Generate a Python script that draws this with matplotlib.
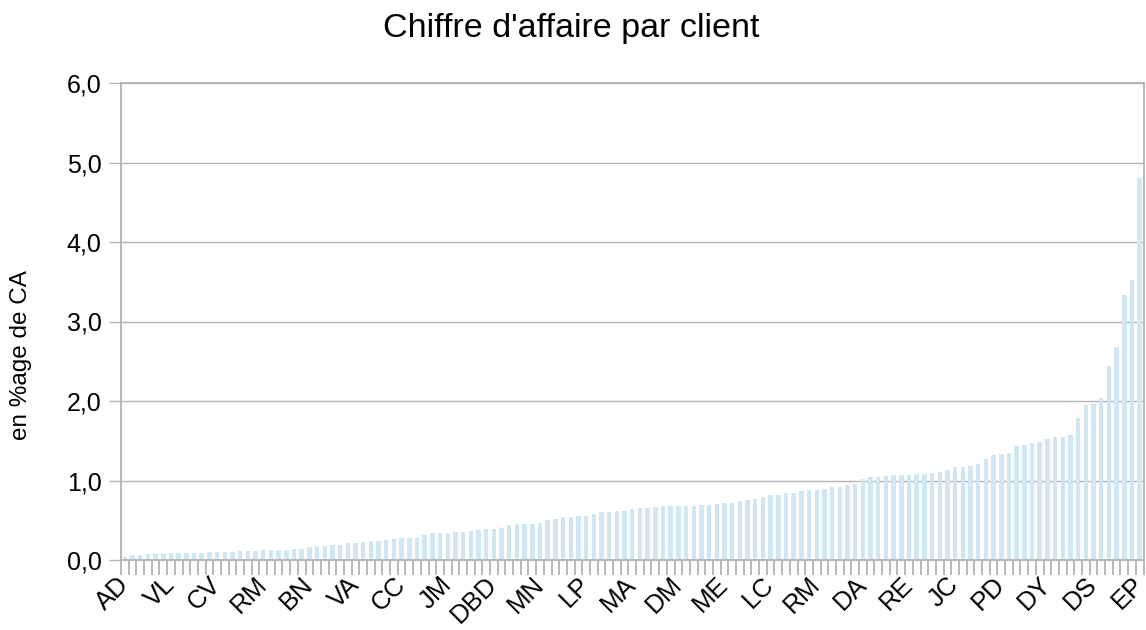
import matplotlib
matplotlib.use("Agg")
import matplotlib.pyplot as plt
from matplotlib.ticker import FuncFormatter, FixedLocator

plt.rcParams['font.family'] = ['Liberation Sans', 'DejaVu Sans']

title = "Chiffre d'affaire par client"
ylabel = "en %age de CA"

# Shown category labels (every 6th client)
shown_labels = ["AD", "VL", "CV", "RM", "BN", "VA", "CC", "JM", "DBD", "MN", "LP", "MA",
                "DM", "ME", "LC", "RM", "DA", "RE", "JC", "PD", "DY", "DS", "EP"]
label_step = 6

# Share of revenue per client (%), sorted ascending
values = [
    0.035, 0.06, 0.06, 0.07, 0.07, 0.07, 0.085, 0.085, 0.085, 0.085,
    0.085, 0.097, 0.097, 0.097, 0.097, 0.11, 0.11, 0.11, 0.12, 0.12,
    0.12, 0.12, 0.134, 0.134, 0.16, 0.172, 0.172, 0.184, 0.184, 0.21,
    0.21, 0.222, 0.235, 0.235, 0.247, 0.26, 0.273, 0.273, 0.273, 0.31,
    0.335, 0.335, 0.335, 0.348, 0.348, 0.36, 0.373, 0.386, 0.386, 0.398,
    0.436, 0.449, 0.449, 0.449, 0.461, 0.499, 0.512, 0.537, 0.537, 0.549,
    0.549, 0.574, 0.60, 0.60, 0.612, 0.612, 0.638, 0.651, 0.652, 0.664,
    0.677, 0.677, 0.677, 0.677, 0.677, 0.69, 0.69, 0.702, 0.715, 0.715,
    0.74, 0.753, 0.765, 0.79, 0.815, 0.815, 0.84, 0.84, 0.866, 0.878,
    0.878, 0.891, 0.916, 0.916, 0.941, 0.954, 1.017, 1.042, 1.042, 1.055,
    1.067, 1.067, 1.067, 1.08, 1.08, 1.092, 1.105, 1.13, 1.168, 1.169,
    1.182, 1.206, 1.270, 1.321, 1.333, 1.346, 1.434, 1.447, 1.472, 1.484,
    1.522, 1.547, 1.547, 1.572, 1.786, 1.950, 1.962, 2.038, 2.440, 2.679,
    3.333, 3.522, 4.805,
]

bar_color = "#cfe6f4"
grid_color = "#b3b3b3"

fig = plt.figure(figsize=(11.46, 6.30), dpi=100)
ax = fig.add_axes([121 / 1146, 70 / 630, 1022.5 / 1146, 477 / 630])

n = len(values)
x = list(range(n))
ax.bar(x, values, width=0.58, color=bar_color, zorder=2)

ax.set_xlim(-0.5, n - 0.5)
ax.set_ylim(0, 6)

ax.set_yticks(range(0, 7))
ax.yaxis.set_major_formatter(FuncFormatter(lambda v, p: f"{v:.1f}".replace(".", ",")))
ax.grid(axis="y", color=grid_color, linewidth=1.0, zorder=0)
ax.set_axisbelow(True)

# category boundary ticks
ax.xaxis.set_minor_locator(FixedLocator([i - 0.5 for i in range(n + 1)]))
ax.tick_params(axis="x", which="minor", length=11, width=1.3, color=grid_color)
ax.set_xticks(list(range(0, n, label_step)))
ax.set_xticklabels(shown_labels, rotation=45, ha="right", va="center",
                   rotation_mode="anchor", fontsize=18.5)
ax.tick_params(axis="x", which="major", length=0, pad=15)
ax.tick_params(axis="y", length=9, width=1.0, color=grid_color, labelsize=18, pad=5)

for s in ax.spines.values():
    s.set_color(grid_color)
    s.set_linewidth(1.3)

fig.text(571 / 1146, 1 - 29 / 630, title, ha="center", va="center", fontsize=24.5)
fig.text(21 / 1146, 1 - 355 / 630, ylabel, ha="center", va="center", rotation=90, fontsize=17.5)

fig.savefig("out.png", dpi=100)
